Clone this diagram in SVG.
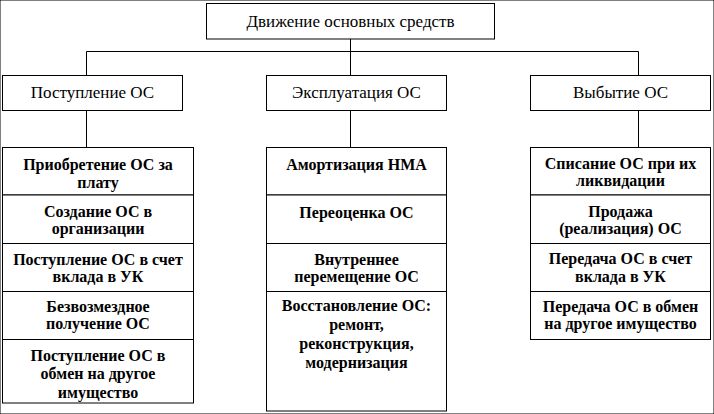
<svg xmlns="http://www.w3.org/2000/svg" width="714" height="414" viewBox="0 0 714 414">
<style>
rect{fill:#fff;stroke:#000;stroke-width:1}
line{stroke:#000;stroke-width:1}
text{font-family:"Liberation Serif","Times New Roman",serif;font-size:17px;fill:#000;text-anchor:middle}
.b{font-weight:bold;font-size:16px}
</style>
<rect width="714" height="414" fill="#fff" stroke="none"/>
<g id="connectors">
<line x1="350.5" y1="39" x2="350.5" y2="51.5"/>
<line x1="86.5" y1="51.5" x2="638.5" y2="51.5"/>
<line x1="86.5" y1="51.5" x2="86.5" y2="75.5"/>
<line x1="350.5" y1="51.5" x2="350.5" y2="75.5"/>
<line x1="638.5" y1="51.5" x2="638.5" y2="75.5"/>
<line x1="86.5" y1="110.5" x2="86.5" y2="147.5"/>
<line x1="350.5" y1="110.5" x2="350.5" y2="147.5"/>
<line x1="638.5" y1="110.5" x2="638.5" y2="147.5"/>
</g>
<g id="root"><rect x="206.5" y="3.5" width="288" height="35.5"/><text x="350.5" y="27">Движение основных средств</text></g>
<g id="postuplenie"><rect x="2.5" y="75.5" width="180" height="35"/><text x="92.5" y="97.5">Поступление ОС</text></g>
<g id="ekspluatatsiya"><rect x="266.5" y="75.5" width="180" height="35"/><text x="356.5" y="97.5">Эксплуатация ОС</text></g>
<g id="vybytie"><rect x="530.5" y="75.5" width="180" height="35"/><text x="620.5" y="97.5">Выбытие ОС</text></g>

<g id="l1"><rect x="2.5" y="147.5" width="191" height="47.5"/><text class="b" x="98" y="170">Приобретение ОС за<tspan x="98" y="187.5">плату</tspan></text></g>
<g id="l2"><rect x="2.5" y="195" width="191" height="48.5"/><text class="b" x="98" y="216.5">Создание ОС в<tspan x="98" y="234">организации</tspan></text></g>
<g id="l3"><rect x="2.5" y="243.5" width="191" height="48"/><text class="b" x="98" y="264.5">Поступление ОС в счет<tspan x="98" y="282">вклада в УК</tspan></text></g>
<g id="l4"><rect x="2.5" y="291.5" width="191" height="48"/><text class="b" x="98" y="312">Безвозмездное<tspan x="98" y="329">получение ОС</tspan></text></g>
<g id="l5"><rect x="2.5" y="339.5" width="191" height="63.5"/><text class="b" x="98" y="360.5">Поступление ОС в<tspan x="98" y="379">обмен на другое</tspan><tspan x="98" y="398">имущество</tspan></text></g>

<g id="m1"><rect x="266.5" y="147.5" width="180" height="47.5"/><text class="b" x="356.5" y="169.5">Амортизация НМА</text></g>
<g id="m2"><rect x="266.5" y="195" width="180" height="48.5"/><text class="b" x="356.5" y="218">Переоценка ОС</text></g>
<g id="m3"><rect x="266.5" y="243.5" width="180" height="48"/><text class="b" x="356.5" y="264.5">Внутреннее<tspan x="356.5" y="282">перемещение ОС</tspan></text></g>
<g id="m4"><rect x="266.5" y="291.5" width="180" height="119.5"/><text class="b" x="356.5" y="311">Восстановление ОС:<tspan x="356.5" y="330">ремонт,</tspan><tspan x="356.5" y="349">реконструкция,</tspan><tspan x="356.5" y="368">модернизация</tspan></text></g>

<g id="r1"><rect x="530.5" y="147.5" width="180" height="47.5"/><text class="b" x="620.5" y="169">Списание ОС при их<tspan x="620.5" y="186">ликвидации</tspan></text></g>
<g id="r2"><rect x="530.5" y="195" width="180" height="48.5"/><text class="b" x="620.5" y="216.5">Продажа<tspan x="620.5" y="234">(реализация) ОС</tspan></text></g>
<g id="r3"><rect x="530.5" y="243.5" width="180" height="48"/><text class="b" x="620.5" y="264">Передача ОС в счет<tspan x="620.5" y="281.5">вклада в УК</tspan></text></g>
<g id="r4"><rect x="530.5" y="291.5" width="180" height="48"/><text class="b" x="620.5" y="312">Передача ОС в обмен<tspan x="620.5" y="329">на другое имущество</tspan></text></g>
</svg>
